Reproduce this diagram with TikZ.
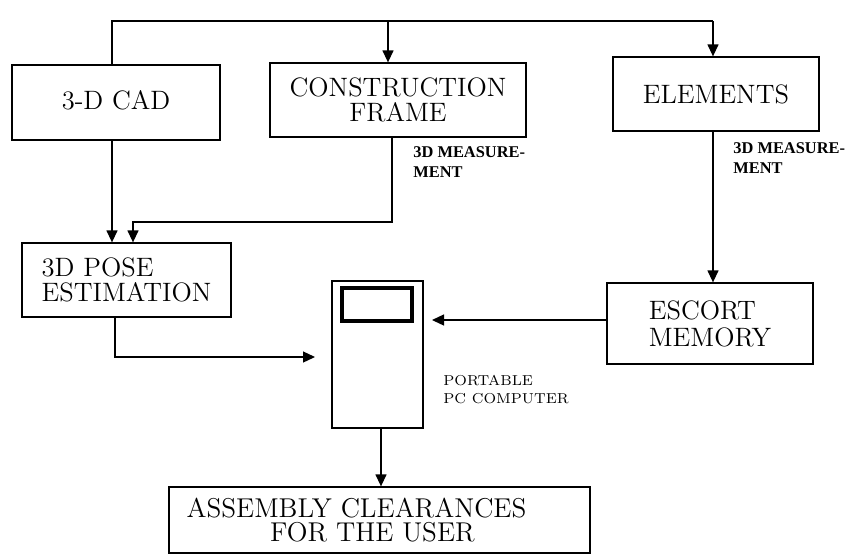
\documentclass[tikz,border=0pt]{standalone}
\usepackage{fontspec}
\usetikzlibrary{arrows.meta}
\newfontfamily\labfont{Liberation Serif}
\newcommand\boxfont[2]{\fontsize{#1}{#2}\selectfont\addfontfeatures{FakeBold=0.4}}
\tikzset{
  bx/.style={draw, line width=0.65pt, inner sep=0pt, font=\boxfont{13.3}{12.2}},
  arr/.style={line width=0.65pt, -{Triangle[length=6pt,width=5.5pt]}},
  ln/.style={line width=0.65pt},
  meas/.style={font=\labfont\bfseries\fontsize{8.2}{10}\selectfont, align=left, inner sep=0pt, anchor=north west},
  pclabel/.style={font=\fontsize{7.2}{9}\selectfont\addfontfeatures{LetterSpace=6}, align=left, inner sep=0pt, anchor=north west},
}
\begin{document}
\begin{tikzpicture}[x=0.5pt,y=-0.5pt]
\useasboundingbox (0,0) rectangle (853,559);
% boxes
\node[bx, minimum width=104pt, minimum height=37.5pt] (cad) at (116,102.5) {\raisebox{2.5pt}{3-D CAD}};
\node[bx, align=center, minimum width=128pt, minimum height=37pt] (cf) at (398,100) {CONSTRUCTION\\FRAME};
\node[bx, minimum width=103pt, minimum height=37pt] (el) at (716,94) {ELEMENTS};
\node[bx, align=left, minimum width=104.5pt, minimum height=37pt] (pose) at (126.5,280) {3D POSE\\ESTIMATION};
\node[bx, align=left, minimum width=103pt, minimum height=40.5pt, font=\boxfont{13.3}{13.5}] (esc) at (710,323.5) {ESCORT\\MEMORY};
\node[bx, minimum width=45.5pt, minimum height=73.5pt] (pc) at (377.5,354.5) {};
\node[draw, line width=2pt, inner sep=0pt, minimum width=35pt, minimum height=16.5pt] (scr) at (377,304.5) {};
\node[bx, align=center, minimum width=210.5pt, minimum height=33pt, font=\boxfont{13.6}{12.4}] (asm) at (379.5,520) {ASSEMBLY CLEARANCES\rule{23pt}{0pt}\\FOR THE USER\rule{7pt}{0pt}};
% labels
\node[meas] (m1) at (413,146) {3D MEASURE-\\MENT};
\node[meas] (m2) at (733,142) {3D MEASURE-\\MENT};
\node[pclabel] (pcl) at (443,375) {PORTABLE\\PC COMPUTER};
% connector points
\coordinate (tl) at (112,21);
\coordinate (tm) at (388,21);
\coordinate (tr) at (713,21);
\coordinate (cfx) at (392,222);
\coordinate (pj) at (133,222);
\coordinate (pout) at (115,357);
\coordinate (pcin1) at (315,357);
\coordinate (pcin2) at (432,320);
\coordinate (pcx) at (381,0);
% connectors
\draw[ln] (tl |- cad.north) -- (tl) -- (tr);
\draw[arr] (tm) -- (tm |- cf.north);
\draw[arr] (tr) -- (tr |- el.north);
\draw[arr] (tl |- cad.south) -- (tl |- pose.north);
\draw[arr] (cfx |- cf.south) -- (cfx) -- (pj) -- (pj |- pose.north);
\draw[arr] (tr |- el.south) -- (tr |- esc.north);
\draw[arr] (esc.west |- pcin2) -- (pcin2);
\draw[arr] (pout |- pose.south) -- (pout) -- (pcin1);
\draw[arr] (pcx |- pc.south) -- (pcx |- asm.north);
\end{tikzpicture}
\end{document}
